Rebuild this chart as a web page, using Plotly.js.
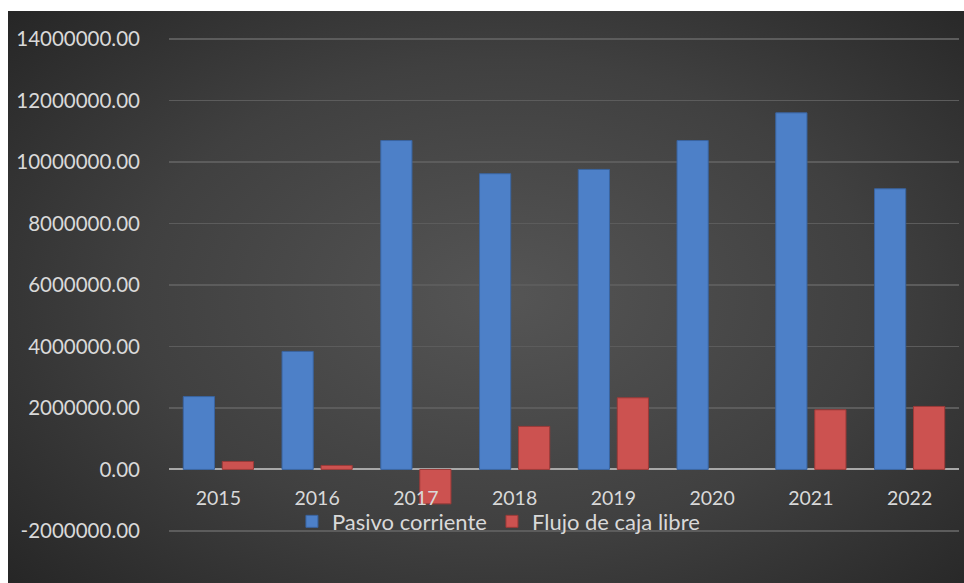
<!DOCTYPE html>
<html>
<head>
<meta charset="utf-8">
<script src="https://cdn.plot.ly/plotly-3.0.1.min.js"></script>
<style>
  html, body { margin: 0; padding: 0; background: #ffffff; }
  #chart {
    position: absolute; left: 8px; top: 11px; width: 956px; height: 572px;
    background: radial-gradient(ellipse 70% 75% at 52% 50%, #555555 0%, #404040 55%, #262626 100%);
  }
</style>
</head>
<body>
<div id="chart"></div>
<script>
const years = ['2015','2016','2017','2018','2019','2020','2021','2022'];
const pasivoCorriente = [2370000, 3840000, 10700000, 9620000, 9760000, 10700000, 11600000, 9130000];
const flujoCajaLibre = [260000, 130000, -1120000, 1400000, 2330000, null, 1940000, 2050000];
const yTickVals = [-2000000, 0, 2000000, 4000000, 6000000, 8000000, 10000000, 12000000, 14000000];
const yTickText = yTickVals.map(v => v.toFixed(2));

const fontFam = 'Lato, "Open Sans", sans-serif';
const traces = [
  {
    type: 'bar', name: 'Pasivo corriente', x: years, y: pasivoCorriente,
    marker: { color: '#4d80c8', line: { color: '#3a64a0', width: 1 } },
    hoverinfo: 'skip'
  },
  {
    type: 'bar', name: 'Flujo de caja libre', x: years, y: flujoCajaLibre,
    marker: { color: '#cc5250', line: { color: '#9c3a38', width: 1 } },
    hoverinfo: 'skip'
  }
];

const layout = {
  width: 956, height: 572,
  paper_bgcolor: 'rgba(0,0,0,0)', plot_bgcolor: 'rgba(0,0,0,0)',
  margin: { l: 161, r: 5, t: 24.6, b: 48.5 },
  barmode: 'group', bargap: 0.21, bargroupgap: 0.2,
  font: { family: fontFam, color: '#d9d9d9', size: 20 },
  showlegend: true,
  legend: {
    orientation: 'h', x: 0.417, xanchor: 'center', y: 0.025, yanchor: 'middle',
    bgcolor: 'rgba(0,0,0,0)', font: { size: 22, color: '#d9d9d9' },
    itemwidth: 30, traceorder: 'normal'
  },
  xaxis: {
    type: 'category', anchor: 'free', position: 0.1296,
    showgrid: false, showline: false, ticks: '', zeroline: false,
    ticklabelstandoff: 15, tickfont: { size: 19.5, color: '#d9d9d9' }
  },
  yaxis: {
    range: [-2100000, 14100000], tickvals: yTickVals, ticktext: yTickText,
    showgrid: true, gridcolor: '#5c5c5c', gridwidth: 1.5,
    zeroline: true, zerolinecolor: '#a8a8a8', zerolinewidth: 2,
    showline: false, ticks: '', ticklabelstandoff: 28,
    tickfont: { size: 20.5, color: '#d9d9d9' }
  }
};

Plotly.newPlot('chart', traces, layout, { displayModeBar: false, staticPlot: true });
</script>
</body>
</html>
